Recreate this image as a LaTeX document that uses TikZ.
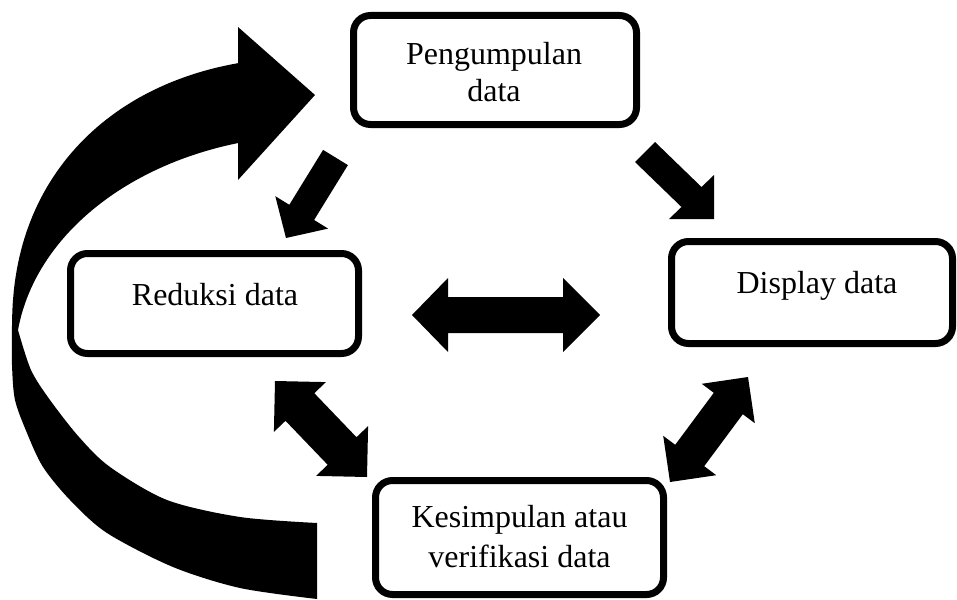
\documentclass[tikz,border=0pt]{standalone}
\usepackage{fontspec}
\setmainfont{Liberation Serif}
\begin{document}
\begin{tikzpicture}[x=1pt,y=-1pt,
  box/.style={draw=black, line width=7pt, rounded corners=17pt, inner sep=0pt},
  lbl/.style={font=\fontsize{32}{37}\selectfont, inner sep=0pt, anchor=base},
  blk/.style={fill=black}]
\useasboundingbox (0,0) rectangle (957,599);
\fill[white] (0,0) rectangle (957,599);

% boxes
\node[box, minimum width=283pt, minimum height=109pt] (peng) at (495,70) {};
\node[box, minimum width=288pt, minimum height=100pt] (red) at (214.5,303.5) {};
\node[box, minimum width=281pt, minimum height=102pt] (disp) at (812,292.5) {};
\node[box, minimum width=288pt, minimum height=114pt] (kes) at (519.5,537.5) {};

% texts
\node[lbl] (pengA) at (494,65) {Pengumpulan};
\node[lbl] (pengB) at (494,102) {data};
\node[lbl] (redT) at (215,305) {Reduksi data};
\node[lbl] (dispT) at (817,293) {Display data};
\node[lbl] (kesA) at (519.5,527) {Kesimpulan atau};
\node[lbl] (kesB) at (519.5,567) {verifikasi data};

% big curved arrow
\fill[blk] plot[smooth] coordinates {(317,599) (240,588) (173,567) (107,533) (70,500) (43,467) (27,433) (15,400) (12,365) (12,331)}
  -- plot[domain=0.5:77.1, samples=60, variable=\t] ({317-305*pow(cos(\t),0.9)},{330-273*pow(sin(\t),0.9)})
  -- (238,63) -- (238,27) -- (315,95) -- (238,180) -- (238,143)
  -- plot[domain=74.8:7.7, samples=50, variable=\t] ({317-301.7*cos(\t)},{360-224.8*sin(\t)})
  -- plot[smooth] coordinates {(18,330) (31,370) (50,400) (79,437) (110,467) (167,500) (240,517) (317,523)}
  -- cycle;

% Pengumpulan -> Reduksi
\fill[blk] (323.1,149.9) -- (347.9,165.1) -- (314.1,220.0) -- (328.1,228.6) -- (286,238) -- (275.3,196.2) -- (289.3,204.8) -- cycle;
% Pengumpulan -> Display
\fill[blk] (655,142) -- (701.5,187) -- (714,175) -- (714,219) -- (669,219) -- (681.5,207) -- (635,162) -- cycle;
% Reduksi <-> Display
\fill[blk] (412,315) -- (448,278) -- (448,297) -- (563,297) -- (563,278) -- (600,315) -- (563,352) -- (563,333) -- (448,333) -- (448,352) -- cycle;
% Reduksi <-> Kesimpulan
\fill[blk] (275,381) -- (325.9,382.1) -- (314.3,393.2) -- (356.5,437.2) -- (368.1,426.1) -- (367,477) -- (316.1,475.9) -- (327.7,464.8) -- (285.5,420.8) -- (273.9,431.9) -- cycle;
% Kesimpulan <-> Display
\fill[blk] (748,377) -- (754.8,423.2) -- (742.8,414.2) -- (704.2,466.2) -- (716.2,475.2) -- (670,482) -- (663.2,435.8) -- (675.2,444.8) -- (713.8,392.8) -- (701.8,383.8) -- cycle;
\end{tikzpicture}
\end{document}
